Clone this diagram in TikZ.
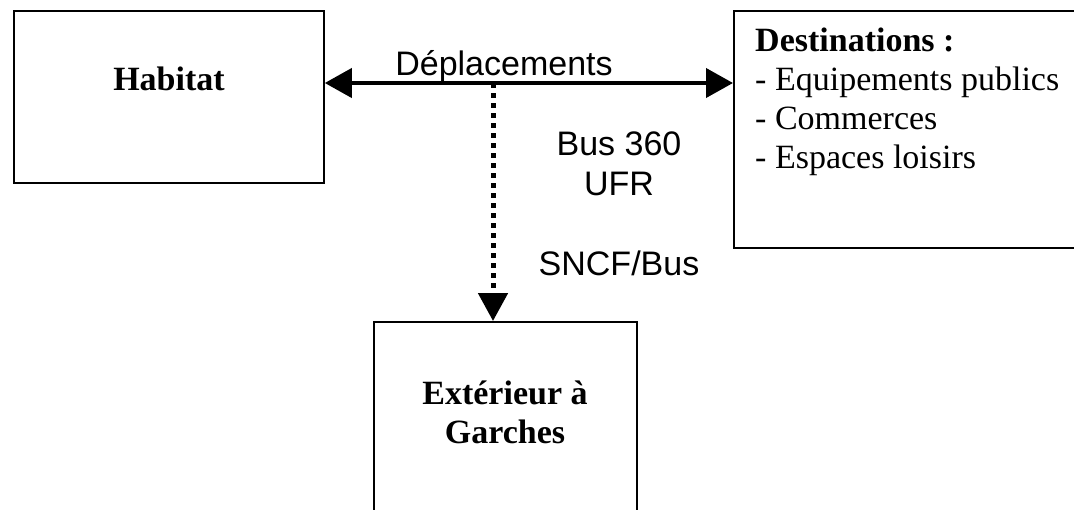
\documentclass[tikz,border=0pt]{standalone}
\usepackage{fontspec}
\setmainfont{Liberation Serif}
\setsansfont{Liberation Sans}
\usepackage{tikz}
\usetikzlibrary{arrows.meta}
\usetikzlibrary{positioning}
\tikzset{box/.style = {draw, line width = 1.6pt, inner sep = 0}}
\tikzset{boxtitle/.style = {font = \fontsize{34}{38.7}\selectfont\bfseries,
                            align = center, inner sep = 0}}
\tikzset{boxitems/.style = {font = \fontsize{34}{38.7}\selectfont,
                            align = left, inner sep = 0}}
\tikzset{translabel/.style = {font = \sffamily\fontsize{34}{40}\selectfont,
                              align = center, inner sep = 0}}
\tikzset{bidir/.style = {line width = 4pt,
                         {Triangle[length=27pt, width=29pt]}-{Triangle[length=27pt, width=29pt]}}}
\tikzset{dotarrow/.style = {line width = 5pt, dash pattern = on 5pt off 5pt,
                            -{Triangle[length=28pt, width=29pt]}}}

\begin{document}
\begin{tikzpicture}[x=1pt, y=-1pt]
    \useasboundingbox (0, 0) rectangle (1074, 509);

    % boxes
    \node [box, minimum width = 310pt, minimum height = 172pt] (hab) at (169, 97) {};
    \node [box, anchor = north west, minimum width = 360pt, minimum height = 237pt] (dest) at (733, 10) {};
    \node [box, anchor = north west, minimum width = 263pt, minimum height = 220pt] (ext) at (373, 321) {};

    % base anchor sits on the last line
    \node [boxtitle, anchor = base] (habtext) at (169, 90) {Habitat};
    \node [boxitems, anchor = base west] (desttext) at (755, 168)
      {\textbf{Destinations :}\\- Equipements publics\\- Commerces\\- Espaces loisirs};
    \node [boxtitle, anchor = base] (exttext) at (505, 443) {Extérieur à\\Garches};

    % trips
    \coordinate (junct) at (493, 83);
    \draw [bidir] (hab.east |- junct) -- (dest.west |- junct);
    \draw [dotarrow] (junct) -- (junct |- ext.north);

    \node [translabel, anchor = base] (deplab) at (504, 75) {Déplacements};
    \node [translabel, anchor = base] (buslab) at (619, 195) {Bus 360\\UFR};
    \node [translabel, anchor = base] (sncflab) at (619, 275) {SNCF/Bus};
  \end{tikzpicture}
\end{document}
